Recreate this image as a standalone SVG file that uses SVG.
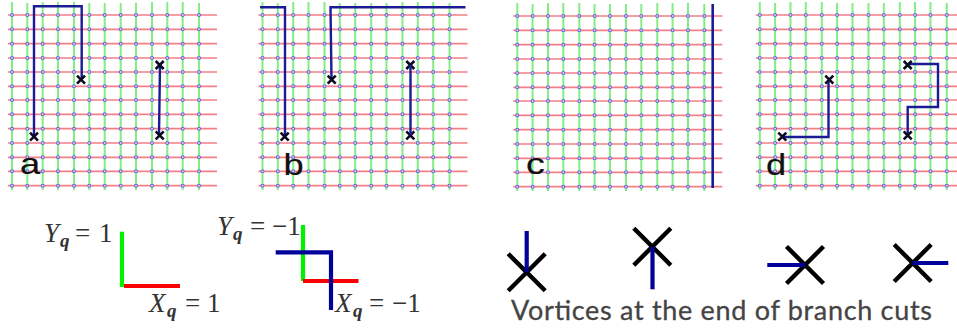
<svg xmlns="http://www.w3.org/2000/svg" xmlns:xlink="http://www.w3.org/1999/xlink" width="957" height="332" viewBox="0 0 957 332">
<style>
.h{stroke:#f47f86;stroke-width:1.7;fill:none}
.v{stroke:#84ee84;stroke-width:2;fill:none}
.p{fill:#d5d8f5;stroke:#6a6bd0;stroke-width:1.1}
.cut{fill:none;stroke:#1b1b96;stroke-width:2.4;stroke-linejoin:miter}
.x{fill:none;stroke:#0a0a20;stroke-width:2.6}
.big{fill:none;stroke:#000;stroke-width:4.4}
.thick{fill:none;stroke:#00009a;stroke-width:4.2}
.gr{fill:none;stroke:#00f000;stroke-width:4.2}
.rd{fill:none;stroke:#fa0000;stroke-width:4.2}
.lab{font-family:"Liberation Sans",Arial,sans-serif;font-size:29px;fill:#111;stroke:#111;stroke-width:.2}
.m{font-family:"Liberation Serif","Times New Roman",serif;font-size:27px;fill:#333}
.i{font-style:italic}
.q{font-style:italic;font-weight:bold;font-size:19px}
.cap{font-family:"Lato","Liberation Sans",sans-serif;font-size:27px;fill:#444;stroke:#444;stroke-width:.3}
</style>
<defs>
<g id="row">
<circle class="p" cx="12" cy="0" r="1.5"/><circle class="p" cx="27.3" cy="0" r="1.5"/><circle class="p" cx="42.7" cy="0" r="1.5"/><circle class="p" cx="58" cy="0" r="1.5"/><circle class="p" cx="74" cy="0" r="1.5"/><circle class="p" cx="89.3" cy="0" r="1.5"/><circle class="p" cx="104.7" cy="0" r="1.5"/><circle class="p" cx="120.7" cy="0" r="1.5"/><circle class="p" cx="136" cy="0" r="1.5"/><circle class="p" cx="152" cy="0" r="1.5"/><circle class="p" cx="167.3" cy="0" r="1.5"/><circle class="p" cx="182.7" cy="0" r="1.5"/><circle class="p" cx="199" cy="0" r="1.5"/>
</g>
<g id="grid">
<path class="v" d="M12 2V190M27.3 3V190M42.7 2V190M58 2V190M74 2V190M89.3 3V190M104.7 3V190M120.7 3V190M136 3V190M152 2V190M167.3 2V190M182.7 2V190M199 3V190"/>
<path class="h" d="M8 15H217M8 29.3H217M8 43.7H217M8 58H217M8 72H217M8 86.3H217M8 100H217M8 114.3H217M8 128.7H217M8 143H217M8 157.3H217M8 171.3H217M8 185.7H217"/>
<use xlink:href="#row" href="#row" y="15"/><use xlink:href="#row" href="#row" y="29.3"/><use xlink:href="#row" href="#row" y="43.7"/><use xlink:href="#row" href="#row" y="58"/><use xlink:href="#row" href="#row" y="72"/><use xlink:href="#row" href="#row" y="86.3"/><use xlink:href="#row" href="#row" y="100"/><use xlink:href="#row" href="#row" y="114.3"/><use xlink:href="#row" href="#row" y="128.7"/><use xlink:href="#row" href="#row" y="143"/><use xlink:href="#row" href="#row" y="157.3"/><use xlink:href="#row" href="#row" y="171.3"/><use xlink:href="#row" href="#row" y="185.7"/>
</g>
<path id="cross" class="x" d="M-4 -4L4 4M-4 4L4 -4"/>
<path id="bigx" class="big" d="M-18.5 -18.5L18.5 18.5M-18.5 18.5L18.5 -18.5"/>
</defs>
<rect width="957" height="332" fill="#fff"/>

<g id="panel-a">
<use xlink:href="#grid" href="#grid"/>
<path class="cut" d="M34 136V6.3H81.7V79"/>
<path class="cut" d="M160 65L159 135"/>
<use xlink:href="#cross" href="#cross" x="81" y="79.7"/><use xlink:href="#cross" href="#cross" x="34" y="136.7"/><use xlink:href="#cross" href="#cross" x="159.7" y="65"/><use xlink:href="#cross" href="#cross" x="159.7" y="135.3"/>
<text class="lab" transform="translate(20 174) scale(1.25 1)">a</text>
</g>
<g id="panel-b">
<use xlink:href="#grid" href="#grid" x="250.5"/>
<path class="cut" d="M260 7.3H285V136"/>
<path class="cut" d="M331.5 79L330.5 7.3H465.5"/>
<use xlink:href="#cross" href="#cross" x="331.7" y="79.7"/><use xlink:href="#cross" href="#cross" x="284.7" y="136.7"/><use xlink:href="#cross" href="#cross" x="410.3" y="65"/><use xlink:href="#cross" href="#cross" x="410.3" y="135.3"/>
<path class="cut" d="M410.5 65V135"/>
<text class="lab" transform="translate(283.5 174.5) scale(1.25 1)">b</text>
</g>
<g id="panel-c">
<use xlink:href="#grid" href="#grid" x="505.3" y="1"/>
<path class="cut" d="M712.7 4V188" style="stroke-width:2.6"/>
<text class="lab" transform="translate(526 174) scale(1.3 1)">c</text>
</g>
<g id="panel-d">
<use xlink:href="#grid" href="#grid" x="747.8"/>
<path class="cut" d="M782 137H828.5V80"/>
<path class="cut" d="M908 64H938V107H907.7V135"/>
<use xlink:href="#cross" href="#cross" x="829.3" y="79.7"/><use xlink:href="#cross" href="#cross" x="782.3" y="136.7"/><use xlink:href="#cross" href="#cross" x="907.7" y="65"/><use xlink:href="#cross" href="#cross" x="907.7" y="135.3"/>
<text class="lab" transform="translate(766 175) scale(1.25 1)">d</text>
</g>

<g id="stabilizer-plus">
<path class="gr" d="M122 231.7V287"/>
<path class="rd" d="M124 286H180"/>
<text class="m" y="241.7"><tspan class="i" x="44">Y</tspan><tspan class="q" x="60" dy="5">q</tspan><tspan x="75" dy="-5">=</tspan><tspan x="99">1</tspan></text>
<text class="m" y="311.7"><tspan class="i" x="149">X</tspan><tspan class="q" x="167" dy="5">q</tspan><tspan x="185" dy="-5">=</tspan><tspan x="207">1</tspan></text>
</g>
<g id="stabilizer-minus">
<path class="gr" d="M303 225V281"/>
<path class="rd" d="M303 281H358.5"/>
<path class="thick" d="M275.7 252.3H331V310"/>
<text class="m" y="235"><tspan class="i" x="217">Y</tspan><tspan class="q" x="233" dy="5">q</tspan><tspan x="250" dy="-5">=</tspan><tspan x="272">−1</tspan></text>
<text class="m" y="311.7"><tspan class="i" x="335">X</tspan><tspan class="q" x="353" dy="5">q</tspan><tspan x="369" dy="-5">=</tspan><tspan x="392">−1</tspan></text>
</g>

<g id="vortex-1"><use xlink:href="#bigx" href="#bigx" x="526.7" y="272.3"/><path class="thick" d="M526.7 231V272.3"/></g>
<g id="vortex-2"><use xlink:href="#bigx" href="#bigx" x="652.3" y="246.7"/><path class="thick" d="M652.5 246.7V289.3"/></g>
<g id="vortex-3"><use xlink:href="#bigx" href="#bigx" x="805" y="265"/><path class="thick" d="M767.3 265H805"/></g>
<g id="vortex-4"><use xlink:href="#bigx" href="#bigx" x="912.7" y="263"/><path class="thick" d="M912.7 263H948.3"/></g>
<text id="caption" class="cap" x="511" y="320" textLength="421" lengthAdjust="spacing">Vortices at the end of branch cuts</text>
</svg>
